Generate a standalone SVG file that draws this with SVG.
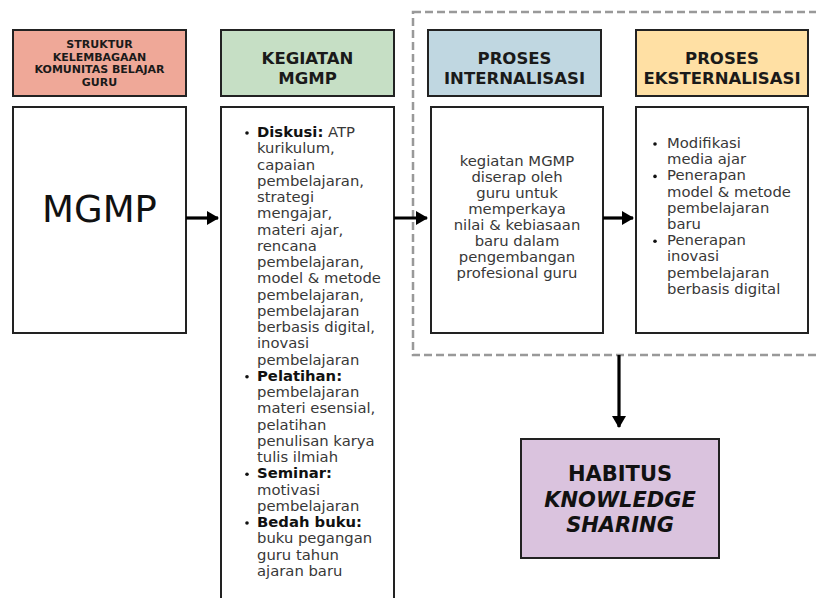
<svg xmlns="http://www.w3.org/2000/svg" width="816" height="598" viewBox="0 0 816 598">
<style>
.box{stroke:#222;stroke-width:2;}
.hs{font-family:"DejaVu Sans",sans-serif;font-weight:bold;font-size:11px;fill:#1a1a1a;text-anchor:middle;}
.h{font-family:"DejaVu Sans",sans-serif;font-weight:bold;font-size:16.5px;fill:#1a1a1a;text-anchor:middle;}
.t{font-family:"DejaVu Sans",sans-serif;font-size:14.8px;fill:#383838;}
.c{text-anchor:middle;}
.b{font-weight:bold;fill:#111;}
.con{stroke:#000;stroke-width:3.2;fill:none;}
</style>
<defs>
<marker id="ah" markerUnits="userSpaceOnUse" markerWidth="12" markerHeight="14" refX="11" refY="7" orient="auto">
<path d="M0,0 L12,7 L0,14 Z" fill="#000"/>
</marker>
</defs>
<rect width="816" height="598" fill="#fff"/>
<g id="dashed-group">
<rect x="413" y="12" width="420" height="343" fill="none" stroke="#999" stroke-width="2.5" stroke-dasharray="8,4"/>
</g>
<g id="struktur-header">
<rect class="box" x="13" y="30" width="173" height="66" fill="#efa898"/>
<text class="hs" x="99.5" y="48">STRUKTUR</text>
<text class="hs" x="99.5" y="60.5">KELEMBAGAAN</text>
<text class="hs" x="99.5" y="73">KOMUNITAS BELAJAR</text>
<text class="hs" x="99.5" y="85.5">GURU</text>
</g>
<g id="kegiatan-header">
<rect class="box" x="221" y="30" width="173" height="66" fill="#c6dfc5"/>
<text class="h" x="307.5" y="64">KEGIATAN</text>
<text class="h" x="307.5" y="84">MGMP</text>
</g>
<g id="internalisasi-header">
<rect class="box" x="428" y="30" width="173" height="66" fill="#c0d7e1"/>
<text class="h" x="514.5" y="64">PROSES</text>
<text class="h" x="514.5" y="84">INTERNALISASI</text>
</g>
<g id="eksternalisasi-header">
<rect class="box" x="636" y="30" width="172" height="66" fill="#ffe0a4"/>
<text class="h" x="722" y="64">PROSES</text>
<text class="h" x="722" y="84">EKSTERNALISASI</text>
</g>
<g id="mgmp">
<rect class="box" x="13" y="107" width="173" height="226" fill="#fff"/>
<text x="99.5" y="222" text-anchor="middle" font-family="DejaVu Sans,sans-serif" font-size="37" fill="#111">MGMP</text>
</g>
<g id="kegiatan-body">
<rect class="box" x="221" y="107" width="173" height="500" fill="#fff"/>
<g class="t">
<circle cx="247" cy="133" r="1.8" fill="#111"/>
<text x="257" y="137"><tspan class="b">Diskusi:</tspan> ATP</text>
<text x="257" y="153.25">kurikulum,</text>
<text x="257" y="169.5">capaian</text>
<text x="257" y="185.75">pembelajaran,</text>
<text x="257" y="202">strategi</text>
<text x="257" y="218.25">mengajar,</text>
<text x="257" y="234.5">materi ajar,</text>
<text x="257" y="250.75">rencana</text>
<text x="257" y="267">pembelajaran,</text>
<text x="257" y="283.25">model &amp; metode</text>
<text x="257" y="299.5">pembelajaran,</text>
<text x="257" y="315.75">pembelajaran</text>
<text x="257" y="332">berbasis digital,</text>
<text x="257" y="348.25">inovasi</text>
<text x="257" y="364.5">pembelajaran</text>
<circle cx="247" cy="376.75" r="1.8" fill="#111"/>
<text x="257" y="380.75" class="b">Pelatihan:</text>
<text x="257" y="397">pembelajaran</text>
<text x="257" y="413.25">materi esensial,</text>
<text x="257" y="429.5">pelatihan</text>
<text x="257" y="445.75">penulisan karya</text>
<text x="257" y="462">tulis ilmiah</text>
<circle cx="247" cy="474.25" r="1.8" fill="#111"/>
<text x="257" y="478.25" class="b">Seminar:</text>
<text x="257" y="494.5">motivasi</text>
<text x="257" y="510.75">pembelajaran</text>
<circle cx="247" cy="523" r="1.8" fill="#111"/>
<text x="257" y="527" class="b">Bedah buku:</text>
<text x="257" y="543.25">buku pegangan</text>
<text x="257" y="559.5">guru tahun</text>
<text x="257" y="575.75">ajaran baru</text>
</g>
</g>
<g id="internalisasi-body">
<rect class="box" x="431" y="107" width="172" height="226" fill="#fff"/>
<g class="t c">
<text x="517" y="166">kegiatan MGMP</text>
<text x="517" y="182">diserap oleh</text>
<text x="517" y="198">guru untuk</text>
<text x="517" y="214">memperkaya</text>
<text x="517" y="230">nilai &amp; kebiasaan</text>
<text x="517" y="246">baru dalam</text>
<text x="517" y="262">pengembangan</text>
<text x="517" y="278">profesional guru</text>
</g>
</g>
<g id="eksternalisasi-body">
<rect class="box" x="636" y="107" width="172" height="226" fill="#fff"/>
<g class="t">
<circle cx="655" cy="144" r="1.8" fill="#111"/>
<text x="667" y="148">Modifikasi</text>
<text x="667" y="164.2">media ajar</text>
<circle cx="655" cy="176.4" r="1.8" fill="#111"/>
<text x="667" y="180.4">Penerapan</text>
<text x="667" y="196.6">model &amp; metode</text>
<text x="667" y="212.8">pembelajaran</text>
<text x="667" y="229">baru</text>
<circle cx="655" cy="241.2" r="1.8" fill="#111"/>
<text x="667" y="245.2">Penerapan</text>
<text x="667" y="261.4">inovasi</text>
<text x="667" y="277.6">pembelajaran</text>
<text x="667" y="293.8">berbasis digital</text>
</g>
</g>
<g id="habitus">
<rect class="box" x="521" y="439" width="198" height="119" fill="#dac3de"/>
<g font-family="DejaVu Sans,sans-serif" font-weight="bold" font-size="21" fill="#111" text-anchor="middle">
<text x="620" y="481">HABITUS</text>
<text x="620" y="507" font-style="italic">KNOWLEDGE</text>
<text x="620" y="532" font-style="italic">SHARING</text>
</g>
</g>
<g id="connectors">
<line class="con" x1="186" y1="218" x2="218" y2="218" marker-end="url(#ah)"/>
<line class="con" x1="394" y1="218" x2="427" y2="218" marker-end="url(#ah)"/>
<line class="con" x1="603" y1="218" x2="633" y2="218" marker-end="url(#ah)"/>
<line class="con" x1="619" y1="355" x2="619" y2="427" marker-end="url(#ah)"/>
</g>
</svg>
